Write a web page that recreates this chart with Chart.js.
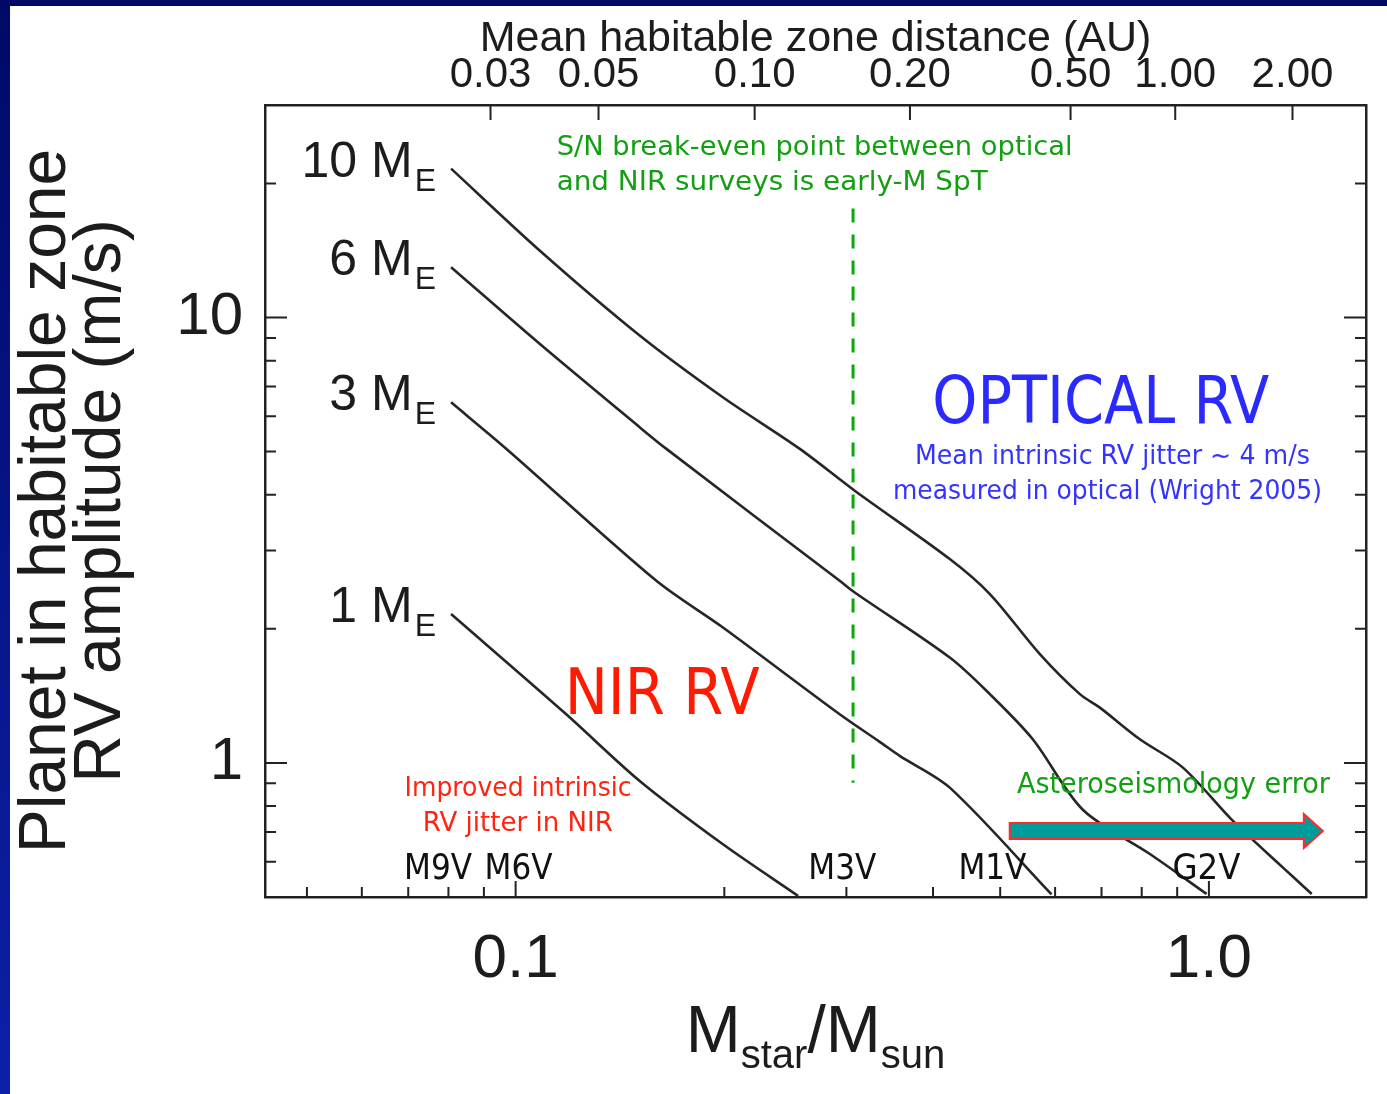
<!DOCTYPE html>
<html><head><meta charset="utf-8">
<script src="https://cdn.jsdelivr.net/npm/chart.js@4.4.1/dist/chart.umd.min.js"></script>
<style>html,body{margin:0;padding:0;background:#fff;overflow:hidden}canvas{display:block}</style>
</head><body>
<canvas id="c" width="1387" height="1094"></canvas>
<script>
// ---------------- data ----------------
const planetMasses = ['10', '6', '3', '1'];            // Earth masses of the four curves
const massE10 = [0.0807, 0.1083, 0.1510, 0.1990, 0.2570, 0.3084, 0.4229, 0.4831, 0.5704, 0.6514, 0.6962, 0.7951, 0.9173, 1.083, 1.279, 1.407];
const rvE10   = [21.59, 14.14, 9.11, 6.62, 5.07, 4.085, 2.869, 2.394, 1.755, 1.427, 1.331, 1.130, 0.976, 0.741, 0.582, 0.508];
const massE6  = [0.0807, 0.1083, 0.1510, 0.1650, 0.2934, 0.3084, 0.4229, 0.4831, 0.5571, 0.6579, 0.8221, 0.9924];
const rvE6    = [12.97, 8.73, 5.67, 5.07, 2.564, 2.414, 1.724, 1.427, 1.130, 0.785, 0.6245, 0.508];
const massE3  = [0.0807, 0.0970, 0.1596, 0.1991, 0.2934, 0.3351, 0.3581, 0.4229, 0.5929];
const rvE3    = [6.45, 5.07, 2.564, 2.014, 1.286, 1.115, 1.037, 0.880, 0.507];
const massE1  = [0.0807, 0.1183, 0.1510, 0.1991, 0.2556];
const rvE1    = [2.159, 1.286, 0.911, 0.6566, 0.5027];

const breakEvenMass = [0.3067, 0.3067];   // S/N break-even (dashed green)
const breakEvenRV   = [17.58, 0.902];

const xMin = 0.0435, xMax = 1.685, yMin = 0.5, yMax = 30;
const xTickValues = [0.05, 0.06, 0.07, 0.08, 0.09, 0.1, 0.2, 0.3, 0.4, 0.5, 0.6, 0.7, 0.8, 0.9, 1.0];
const xTickLabels = ['', '', '', '', '', '0.1', '', '', '', '', '', '', '', '', '1.0'];
const yTickValues = [0.6, 0.7, 0.8, 0.9, 1, 2, 3, 4, 5, 6, 7, 8, 9, 10, 20];
const yTickLabels = ['', '', '', '', '1', '', '', '', '', '', '', '', '', '10', ''];
const topTickMass   = [0.0920, 0.1317, 0.2212, 0.3705, 0.6316, 0.8942, 1.320];
const topTickLabels = ['0.03', '0.05', '0.10', '0.20', '0.50', '1.00', '2.00'];

const spectralTypes = ['M9V', 'M6V', 'M3V', 'M1V', 'G2V'];
const spectralMass  = [0.0773, 0.1010, 0.2959, 0.4872, 0.9917];
const spectralRV = 0.5489;

const arrowMass = [0.5161, 1.460];
const arrowRV = 0.7036;

// ---------------- styles ----------------
const AX = "'Liberation Sans', Arial, Helvetica, sans-serif";
const ANN = "'DejaVu Sans', Verdana, sans-serif";
const GREEN = '#12a012', BLUE = '#3434ff', RED = '#ff2410', INK = '#1c1c1c';

const notes = [
  {t: 'S/N break-even point between optical', m: 0.1146, r: 23.12, size: 26, w: 516, c: GREEN, a: 'left'},
  {t: 'and NIR surveys is early-M SpT', m: 0.1146, r: 19.29, size: 26, w: 431, c: GREEN, a: 'left'},
  {t: 'OPTICAL RV', m: 0.6984, r: 5.808, size: 66, w: 337, c: '#2a2aff', a: 'center'},
  {t: 'Mean intrinsic RV jitter ~ 4 m/s', m: 0.7258, r: 4.698, size: 27, w: 395, c: BLUE, a: 'center'},
  {t: 'measured in optical (Wright 2005)', m: 0.7138, r: 3.921, size: 27, w: 429, c: BLUE, a: 'center'},
  {t: 'NIR RV', m: 0.1627, r: 1.289, size: 64, w: 195, c: '#ff1a00', a: 'center'},
  {t: 'Improved intrinsic', m: 0.1008, r: 0.8429, size: 27, w: 227, c: RED, a: 'center'},
  {t: 'RV jitter in NIR', m: 0.1007, r: 0.7035, size: 27, w: 190, c: RED, a: 'center'},
  {t: 'Asteroseismology error', m: 0.8889, r: 0.8562, size: 29, w: 313, c: GREEN, a: 'center'}
];

function pts(ms, rs) { return ms.map((m, i) => ({x: m, y: rs[i]})); }
function curve(ms, rs) {
  return {data: pts(ms, rs), borderColor: '#262626', borderWidth: 2.6, pointRadius: 0,
          fill: false, tension: 0.3, xAxisID: 'x', yAxisID: 'y'};
}

function drawScaledText(ctx, txt, x, y, size, targetW, color, align, family) {
  ctx.save();
  ctx.font = size + 'px ' + family;
  const w = ctx.measureText(txt).width;
  const sx = targetW ? targetW / w : 1;
  ctx.translate(x, y);
  ctx.scale(sx, 1);
  ctx.textAlign = align; ctx.textBaseline = 'alphabetic';
  ctx.fillStyle = color;
  ctx.fillText(txt, 0, 0);
  ctx.restore();
}

const backgroundPlugin = {
  id: 'bg',
  beforeDraw(chart) {
    const ctx = chart.ctx, W = chart.width, H = chart.height;
    ctx.save();
    const g = ctx.createLinearGradient(0, 0, 0, H);
    g.addColorStop(0, '#000a66'); g.addColorStop(1, '#0c20a8');
    ctx.fillStyle = g; ctx.fillRect(0, 0, W, H);
    ctx.fillStyle = '#ffffff'; ctx.fillRect(10, 6, W - 10, H - 6);
    ctx.restore();
  }
};

const decorPlugin = {
  id: 'decor',
  afterDraw(chart) {
    const ctx = chart.ctx, a = chart.chartArea;
    const sx = chart.scales.x, sy = chart.scales.y, st = chart.scales.xTop;
    // tick marks (inside the frame)
    ctx.save();
    ctx.strokeStyle = '#222'; ctx.lineWidth = 2;
    ctx.beginPath();
    yTickValues.forEach((v, i) => {
      const p = sy.getPixelForValue(v);
      const len = yTickLabels[i] ? 22 : 11;
      ctx.moveTo(a.left, p); ctx.lineTo(a.left + len, p);
      ctx.moveTo(a.right, p); ctx.lineTo(a.right - len, p);
    });
    xTickValues.forEach((v, i) => {
      const p = sx.getPixelForValue(v);
      const len = xTickLabels[i] ? 16 : 10;
      ctx.moveTo(p, a.bottom); ctx.lineTo(p, a.bottom - len);
    });
    topTickMass.forEach(v => {
      const p = st.getPixelForValue(v);
      ctx.moveTo(p, a.top); ctx.lineTo(p, a.top + 15);
    });
    ctx.stroke();
    ctx.restore();

    // planet mass labels at the start of each curve
    chart.data.datasets.forEach((ds, i) => {
      if (i >= planetMasses.length) return;
      const p0 = ds.data[0];
      const px = sx.getPixelForValue(p0.x), py = sy.getPixelForValue(p0.y);
      ctx.save();
      ctx.fillStyle = INK;
      ctx.font = '32px ' + AX;
      const ew = ctx.measureText('E').width;
      ctx.textAlign = 'right'; ctx.textBaseline = 'alphabetic';
      ctx.fillText('E', px - 15, py + 22);
      ctx.font = '50px ' + AX;
      ctx.fillText(planetMasses[i] + ' M', px - 17 - ew, py + 8);
      ctx.restore();
    });

    // annotations
    notes.forEach(n => {
      drawScaledText(ctx, n.t, sx.getPixelForValue(n.m), sy.getPixelForValue(n.r), n.size, n.w, n.c, n.a, ANN);
    });
    spectralTypes.forEach((s, i) => {
      drawScaledText(ctx, s, sx.getPixelForValue(spectralMass[i]), sy.getPixelForValue(spectralRV), 36, 68, '#111', 'center', ANN);
    });

    // asteroseismology arrow
    const x1 = sx.getPixelForValue(arrowMass[0]), x2 = sx.getPixelForValue(arrowMass[1]);
    const yc = sy.getPixelForValue(arrowRV);
    ctx.save();
    ctx.beginPath();
    ctx.moveTo(x1, yc - 8); ctx.lineTo(x2 - 19, yc - 8); ctx.lineTo(x2 - 19, yc - 17);
    ctx.lineTo(x2, yc); ctx.lineTo(x2 - 19, yc + 17); ctx.lineTo(x2 - 19, yc + 8);
    ctx.lineTo(x1, yc + 8); ctx.closePath();
    ctx.fillStyle = '#009b9b'; ctx.fill();
    ctx.strokeStyle = '#ff2a2a'; ctx.lineWidth = 2; ctx.stroke();
    ctx.restore();

    // bottom axis title: M_star / M_sun
    ctx.save();
    ctx.fillStyle = INK; ctx.textBaseline = 'alphabetic'; ctx.textAlign = 'left';
    const parts = [['M', 66, 0], ['star', 40, 16], ['/M', 66, 0], ['sun', 40, 16]];
    let tot = 0;
    parts.forEach(p => { ctx.font = p[1] + 'px ' + AX; tot += ctx.measureText(p[0]).width; });
    let cx = (a.left + a.right) / 2 - tot / 2;
    const base = a.bottom + 155;
    parts.forEach(p => {
      ctx.font = p[1] + 'px ' + AX;
      ctx.fillText(p[0], cx, base + p[2]);
      cx += ctx.measureText(p[0]).width;
    });
    ctx.restore();
  }
};

const tickFont = (s) => ({family: AX, size: s});

new Chart(document.getElementById('c'), {
  type: 'line',
  data: {
    datasets: [
      curve(massE10, rvE10),
      curve(massE6, rvE6),
      curve(massE3, rvE3),
      curve(massE1, rvE1),
      {data: pts(breakEvenMass, breakEvenRV), borderColor: '#0aa80a', borderWidth: 3, borderDash: [14, 12],
       pointRadius: 0, fill: false, xAxisID: 'x', yAxisID: 'y'}
    ]
  },
  options: {
    responsive: false, animation: false, devicePixelRatio: 1,
    layout: {padding: {left: 0, right: 21, top: 0, bottom: 0}},
    plugins: {legend: {display: false}, tooltip: {enabled: false}},
    scales: {
      x: {
        type: 'logarithmic', position: 'bottom', min: xMin, max: xMax, bounds: 'data',
        afterBuildTicks: s => { s.ticks = xTickValues.map(v => ({value: v})); },
        afterFit: s => { s.height = 197; },
        grid: {drawOnChartArea: false, drawTicks: false},
        border: {display: true, color: '#222', width: 2.5},
        ticks: {autoSkip: false, maxRotation: 0, minRotation: 0, font: tickFont(62), color: INK, padding: 26,
                callback: (v, i) => xTickLabels[i]}
      },
      xTop: {
        type: 'logarithmic', position: 'top', min: xMin, max: xMax, bounds: 'data',
        afterBuildTicks: s => { s.ticks = topTickMass.map(v => ({value: v})); },
        afterFit: s => { s.height = 105; },
        grid: {drawOnChartArea: false, drawTicks: false},
        border: {display: true, color: '#222', width: 2.5},
        ticks: {autoSkip: false, maxRotation: 0, minRotation: 0, font: tickFont(42), color: INK, padding: 4,
                callback: (v, i) => topTickLabels[i]},
        title: {display: true, text: 'Mean habitable zone distance (AU)', color: INK,
                font: {family: AX, size: 43, lineHeight: 1}, padding: {top: 18, bottom: 0}}
      },
      y: {
        type: 'logarithmic', position: 'left', min: yMin, max: yMax, bounds: 'data',
        afterBuildTicks: s => { s.ticks = yTickValues.map(v => ({value: v})); },
        afterFit: s => { s.width = 265; },
        grid: {drawOnChartArea: false, drawTicks: false},
        border: {display: true, color: '#222', width: 2.5},
        ticks: {autoSkip: false, font: tickFont(60), color: INK, padding: 22,
                callback: (v, i) => yTickLabels[i]},
        title: {display: true, text: ['Planet in habitable zone', 'RV amplitude (m/s)'], color: INK,
                font: {family: AX, size: 66, lineHeight: 0.84}, padding: {top: 19, bottom: 0}}
      },
      yRight: {
        type: 'logarithmic', position: 'right', min: yMin, max: yMax, bounds: 'data',
        afterBuildTicks: s => { s.ticks = yTickValues.map(v => ({value: v})); },
        afterFit: s => { s.width = 0; },
        grid: {drawOnChartArea: false, drawTicks: false},
        border: {display: true, color: '#222', width: 2.5},
        ticks: {display: false}
      }
    }
  },
  plugins: [backgroundPlugin, decorPlugin]
});
</script>
</body></html>
